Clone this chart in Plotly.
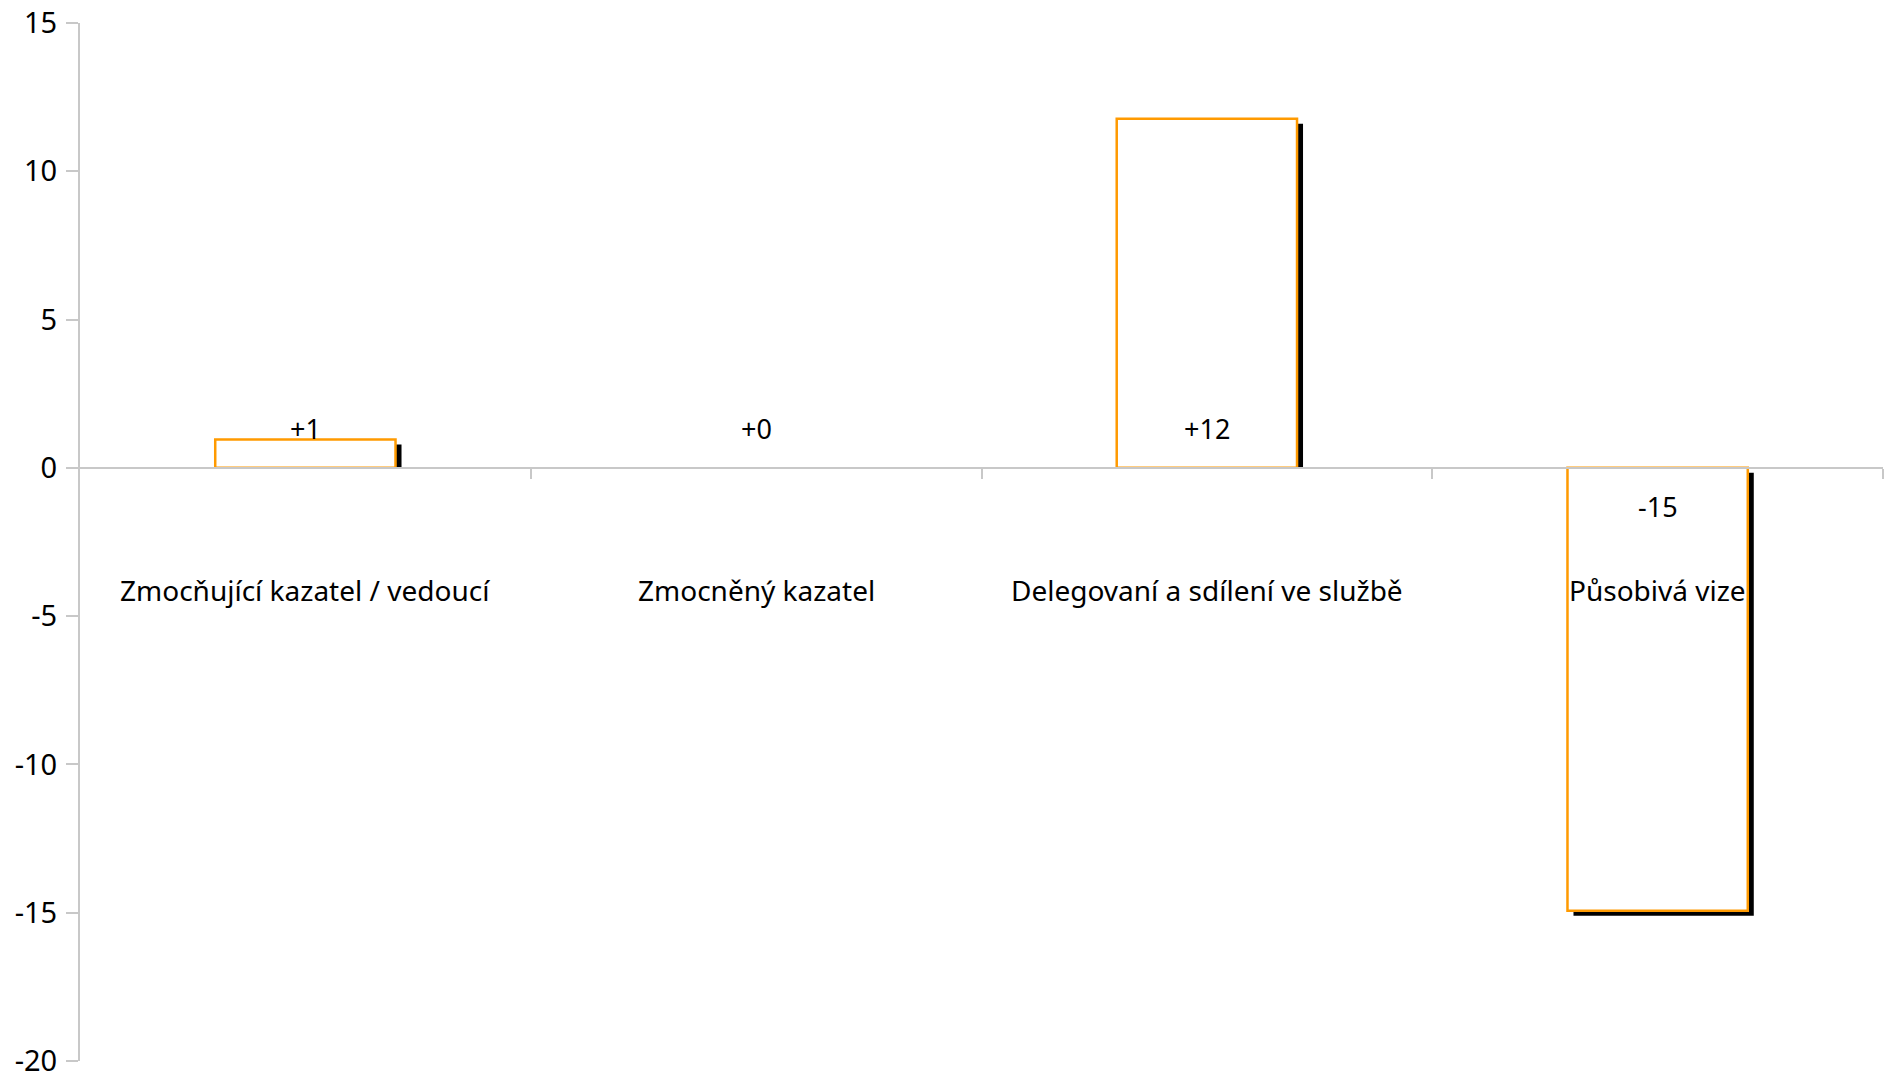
import plotly.graph_objects as go

categories = ["Zmocňující kazatel / vedoucí", "Zmocněný kazatel",
              "Delegovaní a sdílení ve službě", "Působivá vize"]
values = [0.96, 0.0, 11.77, -14.93]
y_ticks = [15, 10, 5, 0, -5, -10, -15, -20]

Y_MIN, Y_MAX = -20, 15
FONT = "Noto Sans"
ORANGE = "#FF9A00"
GRID = "#C8C8C8"

W, H = 1889, 1073
ML, MR, MT, MB = 80, 6, 23, 12
plot_w = W - ML - MR
plot_h = H - MT - MB
px_per_unit_y = plot_h / (Y_MAX - Y_MIN)
px_per_cat = plot_w / len(categories)

# shadow offset: ~6px right, ~5px down
dx = 6 / px_per_cat
dy = 5 / px_per_unit_y

xs = list(range(len(categories)))
bar_w = 0.40

shadow_base = []
shadow_len = []
for v in values:
    if v > 0:
        shadow_base.append(0)
        shadow_len.append(v - dy)
    elif v < 0:
        shadow_base.append(-dy)
        shadow_len.append(v)
    else:
        shadow_base.append(0)
        shadow_len.append(0)

outline_w = [2.5 if v != 0 else 0 for v in values]

fig = go.Figure()
fig.add_trace(go.Bar(
    x=xs, y=shadow_len, base=shadow_base, width=bar_w, offset=-bar_w / 2 + dx,
    marker=dict(color="black", line=dict(width=0)), hoverinfo="skip", showlegend=False,
))
fig.add_trace(go.Bar(
    x=xs, y=values, width=bar_w, offset=-bar_w / 2,
    marker=dict(color="white", line=dict(color=ORANGE, width=outline_w)), showlegend=False,
))

def fmt(v):
    r = int(round(v))
    return f"-{abs(r)}" if r < 0 else f"+{r}"

annotations = []
for x, v in zip(xs, values):
    annotations.append(dict(
        x=x, y=(1.34 if round(v) >= 0 else -1.30), xref="x", yref="y",
        text=fmt(v), showarrow=False, xanchor="center", yanchor="middle",
        font=dict(family=FONT, size=27, color="black"),
    ))
for x, c in zip(xs, categories):
    annotations.append(dict(
        x=x, y=-4.12, xref="x", yref="y", text=c, showarrow=False,
        xanchor="center", yanchor="middle",
        font=dict(family=FONT, size=28, color="black"),
    ))

fig.update_layout(
    width=W, height=H, autosize=False,
    margin=dict(l=ML, r=MR, t=MT, b=MB, pad=0, autoexpand=False),
    paper_bgcolor="white", plot_bgcolor="white",
    barmode="overlay",
    annotations=annotations,
    xaxis=dict(
        range=[-0.5, len(categories) - 0.5], automargin=False,
        anchor="free", position=(0 - Y_MIN) / (Y_MAX - Y_MIN),
        showline=True, linecolor=GRID, linewidth=2,
        ticks="outside", ticklen=10, tickwidth=2, tickcolor=GRID,
        tickvals=[i + 0.5 for i in xs], showticklabels=False,
        showgrid=False, zeroline=False,
    ),
    yaxis=dict(
        range=[Y_MIN, Y_MAX], tickvals=y_ticks, ticktext=[str(t) for t in y_ticks],
        automargin=False,
        showline=True, linecolor=GRID, linewidth=2,
        ticks="outside", ticklen=12, tickwidth=2, tickcolor=GRID,
        showgrid=False, zeroline=False,
        ticklabeloverflow="allow", ticklabelstandoff=3,
        tickfont=dict(family=FONT, size=29, color="black"),
    ),
)

fig.write_html(
    "out.html",
    config={"displayModeBar": False},
    post_script="document.body.style.margin='0';document.body.style.overflow='hidden';",
)
